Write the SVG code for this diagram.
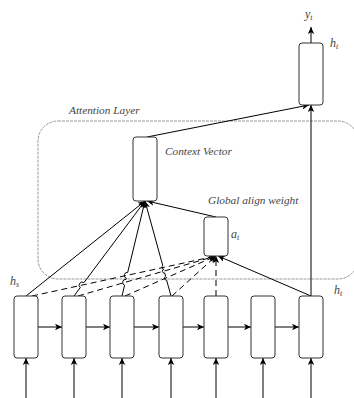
<svg xmlns="http://www.w3.org/2000/svg" width="354" height="398" viewBox="0 0 354 398">
<style>
.box{fill:#fff;stroke:#333;stroke-width:1}
.ln{fill:none;stroke:#000;stroke-width:1}
.dl{fill:none;stroke:#000;stroke-width:1;stroke-dasharray:6 4}
.lbl{font-family:"Liberation Serif",serif;font-style:italic;font-size:11.3px;fill:#444}
.sym{font-family:"Liberation Serif",serif;font-style:italic;font-size:12px;fill:#444}
.sub{font-size:8px}
.grp{fill:none;stroke:#999;stroke-width:1;stroke-dasharray:3 1}
</style>
<defs>
<marker id="ar" markerWidth="8" markerHeight="8" refX="7" refY="4" orient="auto" markerUnits="userSpaceOnUse">
<path d="M0,0.8 L7,4 L0,7.2 L1.8,4 z" fill="#000"/>
</marker>
</defs>
<rect id="attention-layer" class="grp" x="38" y="121" width="320" height="158" rx="20"/>
<text class="lbl" x="69" y="114">Attention Layer</text>
<g id="connectors">
<line class="ln" x1="26" y1="398" x2="26" y2="358" marker-end="url(#ar)"/>
<line class="ln" x1="74" y1="398" x2="74" y2="358" marker-end="url(#ar)"/>
<line class="ln" x1="122" y1="398" x2="122" y2="358" marker-end="url(#ar)"/>
<line class="ln" x1="171" y1="398" x2="171" y2="358" marker-end="url(#ar)"/>
<line class="ln" x1="216" y1="398" x2="216" y2="358" marker-end="url(#ar)"/>
<line class="ln" x1="263" y1="398" x2="263" y2="358" marker-end="url(#ar)"/>
<line class="ln" x1="311" y1="398" x2="311" y2="358" marker-end="url(#ar)"/>
<line class="ln" x1="38" y1="327" x2="62" y2="327" marker-end="url(#ar)"/>
<line class="ln" x1="86" y1="327" x2="110" y2="327" marker-end="url(#ar)"/>
<line class="ln" x1="134" y1="327" x2="159" y2="327" marker-end="url(#ar)"/>
<line class="ln" x1="183" y1="327" x2="204" y2="327" marker-end="url(#ar)"/>
<line class="ln" x1="228" y1="327" x2="251" y2="327" marker-end="url(#ar)"/>
<line class="ln" x1="275" y1="327" x2="299" y2="327" marker-end="url(#ar)"/>
<line class="dl" x1="32" y1="296" x2="216" y2="256" marker-end="url(#ar)"/>
<line class="dl" x1="78" y1="296" x2="216" y2="256" marker-end="url(#ar)"/>
<line class="dl" x1="125" y1="296" x2="216" y2="256" marker-end="url(#ar)"/>
<line class="dl" x1="172" y1="296" x2="216" y2="256" marker-end="url(#ar)"/>
<line class="dl" x1="216" y1="296" x2="216" y2="256" marker-end="url(#ar)"/>
<line class="ln" x1="311" y1="296" x2="218" y2="256" marker-end="url(#ar)"/>
<line class="ln" x1="26" y1="296" x2="145" y2="201" marker-end="url(#ar)"/>
<path class="ln" d="M74,296 L80.3,287.5 A3,3 0 0 1 83.9,282.7 L145,201" marker-end="url(#ar)"/>
<path class="ln" d="M122,296 L124.6,285.2 A3,3 0 0 1 126,279.4 L126.3,278.2 A3,3 0 0 1 127.7,272.4 L145,201" marker-end="url(#ar)"/>
<path class="ln" d="M171,296 L166.6,280.1 A2,2 0 0 1 165.6,276.3 L164.7,273 A1.8,1.8 0 0 1 163.8,269.4 L163.7,269.1 A1.8,1.8 0 0 1 162.8,265.7 L145,201" marker-end="url(#ar)"/>
<line class="ln" x1="216" y1="217" x2="147" y2="201" marker-end="url(#ar)"/>
<line class="ln" x1="147" y1="137" x2="309" y2="105" marker-end="url(#ar)"/>
<line class="ln" x1="311" y1="296" x2="311" y2="105" marker-end="url(#ar)"/>
<line class="ln" x1="311" y1="43" x2="311" y2="27" marker-end="url(#ar)"/>
</g>
<g id="h1"><rect class="box" x="14" y="296" width="24" height="62" rx="3"/></g>
<g id="h2"><rect class="box" x="62" y="296" width="24" height="62" rx="3"/></g>
<g id="h3"><rect class="box" x="110" y="296" width="24" height="62" rx="3"/></g>
<g id="h4"><rect class="box" x="159" y="296" width="24" height="62" rx="3"/></g>
<g id="h5"><rect class="box" x="204" y="296" width="24" height="62" rx="3"/></g>
<g id="h6"><rect class="box" x="251" y="296" width="24" height="62" rx="3"/></g>
<g id="h7"><rect class="box" x="299" y="296" width="24" height="62" rx="3"/></g>
<g id="output"><rect class="box" x="299" y="43" width="24" height="62" rx="3"/></g>
<g id="context"><rect class="box" x="133" y="137" width="24" height="64" rx="3"/></g>
<g id="align"><rect class="box" x="204" y="217" width="24" height="39" rx="3"/></g>
<g id="labels">
<text class="sym" x="305" y="18">y<tspan class="sub" dy="2">t</tspan></text>
<text class="sym" x="330" y="47">h<tspan class="sub" dy="2">t</tspan></text>
<text class="lbl" x="165" y="155">Context Vector</text>
<text class="lbl" x="208" y="204">Global align weight</text>
<text class="sym" x="231" y="238">a<tspan class="sub" dy="2">t</tspan></text>
<text class="sym" x="10" y="285">h<tspan class="sub" dy="2">s</tspan></text>
<text class="sym" x="334" y="294">h<tspan class="sub" dy="2">t</tspan></text>
</g>
</svg>
